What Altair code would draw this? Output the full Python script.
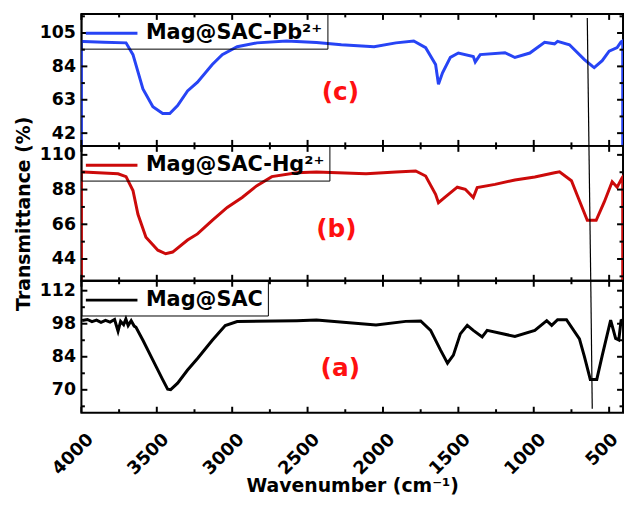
import altair as alt
import pandas as pd

FONT = "DejaVu Sans"

# ---------------- data ----------------
# (c) Mag@SAC-Pb2+
wn_c = [4000, 4000, 3987, 3850, 3704, 3658, 3592, 3526, 3461, 3414, 3362, 3296, 3230, 3132, 3066,
        2967, 2836, 2638, 2441, 2276, 2059, 1914, 1796, 1717, 1651, 1632, 1605, 1553, 1500, 1401,
        1388, 1355, 1191, 1125, 1026, 928, 862, 842, 763, 664, 610, 599, 546, 500, 447, 421, 410, 410]
t_c = [30, 99.6, 99.6, 99.2, 98.8, 91.4, 69.8, 58.7, 54.4, 54.4, 59.3, 68.6, 74.1, 85.2, 91.4,
       96.4, 98.8, 100, 99, 97.6, 96.4, 98.8, 100, 95.8, 85.2, 72.8, 80, 89.7, 92.4, 90.2,
       86.8, 91.4, 92.6, 89.6, 92.4, 99.2, 98.2, 99.7, 97.6, 88.3, 84.0, 83.2, 87.6, 93.6, 95.8, 99.4, 100, 30]

# (b) Mag@SAC-Hg2+
wn_b = [4000, 4000, 3987, 3757, 3704, 3658, 3625, 3572, 3493, 3441, 3395, 3296, 3230, 3132, 3033,
        2934, 2836, 2737, 2572, 2441, 2112, 1914, 1783, 1717, 1651, 1632, 1586, 1507, 1454, 1401,
        1375, 1257, 1125, 993, 862, 829, 750, 711, 645, 586, 533, 480, 447, 414, 410, 410]
t_b = [20, 99.1, 99.1, 98.0, 96.2, 87.4, 72.3, 57.8, 49.6, 47.3, 48.4, 56.0, 59.9, 68.5, 76.7,
       83.0, 90.5, 96.2, 98.7, 99.1, 98.0, 99.1, 99.8, 96.6, 85.0, 79.7, 83.4, 89.5, 88.2, 82.9,
       89.3, 91.3, 94.1, 96.0, 98.7, 99.3, 93.6, 84.2, 68.5, 68.5, 80.0, 93.0, 89.5, 95.5, 96, 20]

# (a) Mag@SAC
wn_a = [3995, 3960, 3930, 3900, 3870, 3840, 3810, 3780, 3757, 3740, 3720, 3705, 3690, 3670,
        3650, 3638, 3592, 3526, 3461, 3428, 3408, 3362, 3296, 3230, 3132, 3046, 2967, 2572,
        2441, 2046, 1849, 1750, 1684, 1618, 1572, 1533, 1487, 1441, 1401, 1342, 1309, 1125,
        993, 914, 881, 842, 783, 697, 664, 625, 582, 546, 490, 457, 436, 421, 412]
t_a = [99.4, 99.8, 98.9, 99.5, 98.6, 99.4, 98.7, 99.8, 94.8, 99.0, 97.6, 100.0, 97.2, 99.3,
       97.0, 96.5, 91.0, 82.6, 74.3, 70.3, 70.1, 72.8, 78.4, 83.3, 91.0, 97.2, 98.9, 99.3,
       99.6, 97.5, 99.0, 99.2, 95.2, 86.8, 81.3, 84.7, 93.7, 97.3, 95.2, 92.4, 95.2, 92.6,
       95.2, 99.3, 97.3, 99.7, 99.7, 91.6, 84.1, 74.4, 74.4, 84.5, 99.5, 91.8, 91.1, 99.3, 99.5]

labels = ["Mag@SAC-Pb²⁺", "Mag@SAC-Hg²⁺", "Mag@SAC"]
colors = ["#2744f5", "#cc0a0a", "#000000"]
tags = ["(c)", "(b)", "(a)"]

x_major = [4000, 3500, 3000, 2500, 2000, 1500, 1000, 500]
x_minor = [3750, 3250, 2750, 2250, 1750, 1250, 750]

y_major_c = [42, 63, 84, 105]
y_minor_c = [52.5, 73.5, 94.5, 115.5]
y_major_b = [44, 66, 88, 110]
y_minor_b = [33, 55, 77, 99]
y_major_a = [70, 84, 98, 112]
y_minor_a = [63, 77, 91, 105]

y_dom_c = [34, 117]
y_dom_b = [30.2, 115.7]
y_dom_a = [60.3, 116.2]

tag_x = [2283, 2309, 2283]
tag_y = [68, 62.9, 79.4]

# slanted reference line, split per panel: (x top, y top, x bottom, y bottom)
vline_c = [645, 114.4, 634, 34]
vline_b = [634, 115.7, 622, 30.2]
vline_a = [622, 116.2, 612, 62]

X_DOMAIN = [408, 4000]
W = 546
HEIGHTS = [133, 136, 133]


def panel(wn, t, label, color, tag, tx, ty, ydom, ymaj, ymin, vl, h, bottom, ytitle):
    xs = alt.Scale(domain=X_DOMAIN, reverse=True, nice=False, zero=False)
    ys = alt.Scale(domain=ydom, nice=False, zero=False)
    df = pd.DataFrame({"wn": wn, "t": t, "i": list(range(len(wn))), "series": label})

    if bottom:
        xaxis = alt.Axis(values=x_major, format="d", labelAngle=-45, labelAlign="right",
                         labelBaseline="middle", labelPadding=24,
                         labelOffset={"condition": {"test": "datum.value == 500", "value": 6},
                                      "value": 9},
                         labelFontSize=18, title="Wavenumber (cm⁻¹)",
                         titleY=79, titleBaseline="alphabetic")
    else:
        xaxis = alt.Axis(values=x_major, labels=False, title=None)
    yaxis = alt.Axis(values=ymaj, labelPadding=6,
                     title=ytitle if ytitle else None, titlePadding=6)

    line = alt.Chart(df).mark_line(strokeWidth=3, clip=True).encode(
        x=alt.X("wn:Q", scale=xs, axis=xaxis),
        y=alt.Y("t:Q", scale=ys, axis=yaxis),
        order="i:Q",
        color=alt.Color("series:N", scale=alt.Scale(domain=[label], range=[color]),
                        legend=alt.Legend(title=None, orient="none", legendX=0, legendY=0,
                                          strokeColor="black", padding=5,
                                          symbolType="M-2,0L2,0", symbolSize=676,
                                          symbolStrokeWidth=3, symbolOffset=11,
                                          labelOffset=20, labelFont=FONT,
                                          labelFontSize=21, labelFontWeight="bold",
                                          labelColor="black", labelLimit=0)),
    )

    xmaj = pd.DataFrame({"v": x_major})
    xmin = pd.DataFrame({"v": x_minor})
    ymj = pd.DataFrame({"v": ymaj})
    ymn = pd.DataFrame({"v": [v for v in ymin if ydom[0] < v < ydom[1]]})

    layers = [line]
    for d, ln in ((xmaj, 6), (xmin, 3.5)):
        for y0, y1 in ((h, h - ln), (0, ln)):
            layers.append(alt.Chart(d).mark_rule(color="black", strokeWidth=2).encode(
                x=alt.X("v:Q", scale=xs, axis=xaxis), y=alt.value(y0), y2=alt.value(y1)))
    for d, ln in ((ymj, 6), (ymn, 3.5)):
        for x0, x1 in ((0, ln), (W, W - ln)):
            layers.append(alt.Chart(d).mark_rule(color="black", strokeWidth=2).encode(
                y=alt.Y("v:Q", scale=ys, axis=yaxis), x=alt.value(x0), x2=alt.value(x1)))

    vdf = pd.DataFrame({"x1": [vl[0]], "y1": [vl[1]], "x2": [vl[2]], "y2": [vl[3]]})
    layers.append(alt.Chart(vdf).mark_rule(color="black", strokeWidth=1.2).encode(
        x=alt.X("x1:Q", scale=xs, axis=xaxis), x2="x2:Q",
        y=alt.Y("y1:Q", scale=ys, axis=yaxis), y2="y2:Q"))

    tdf = pd.DataFrame({"x": [tx], "y": [ty], "s": [tag]})
    layers.append(alt.Chart(tdf).mark_text(font=FONT, fontSize=25, fontWeight="bold",
                                           color="#ff1010", align="center",
                                           baseline="middle").encode(
        x=alt.X("x:Q", scale=xs, axis=xaxis), y=alt.Y("y:Q", scale=ys, axis=yaxis), text="s:N"))

    return alt.layer(*layers).properties(width=W, height=h)


pc = panel(wn_c, t_c, labels[0], colors[0], tags[0], tag_x[0], tag_y[0], y_dom_c,
           y_major_c, y_minor_c, vline_c, HEIGHTS[0], False, None)
pb = panel(wn_b, t_b, labels[1], colors[1], tags[1], tag_x[1], tag_y[1], y_dom_b,
           y_major_b, y_minor_b, vline_b, HEIGHTS[1], False, "Transmittance (%)")
pa = panel(wn_a, t_a, labels[2], colors[2], tags[2], tag_x[2], tag_y[2], y_dom_a,
           y_major_a, y_minor_a, vline_a, HEIGHTS[2], True, None)

chart = alt.vconcat(pc, pb, pa, spacing=0, bounds="flush").resolve_scale(
    x="independent", y="independent", color="independent"
).configure_view(stroke="black", strokeWidth=2).configure_axis(
    labelFont=FONT, labelFontWeight="bold", labelFontSize=17.5, labelColor="black",
    titleFont=FONT, titleFontWeight="bold", titleFontSize=19, titleColor="black",
    grid=False, ticks=False, domain=False
).properties(padding={"left": 5, "top": 2, "right": 0, "bottom": 0}, background="white")

chart.save("out.html", embed_options={"renderer": "svg", "actions": False})
